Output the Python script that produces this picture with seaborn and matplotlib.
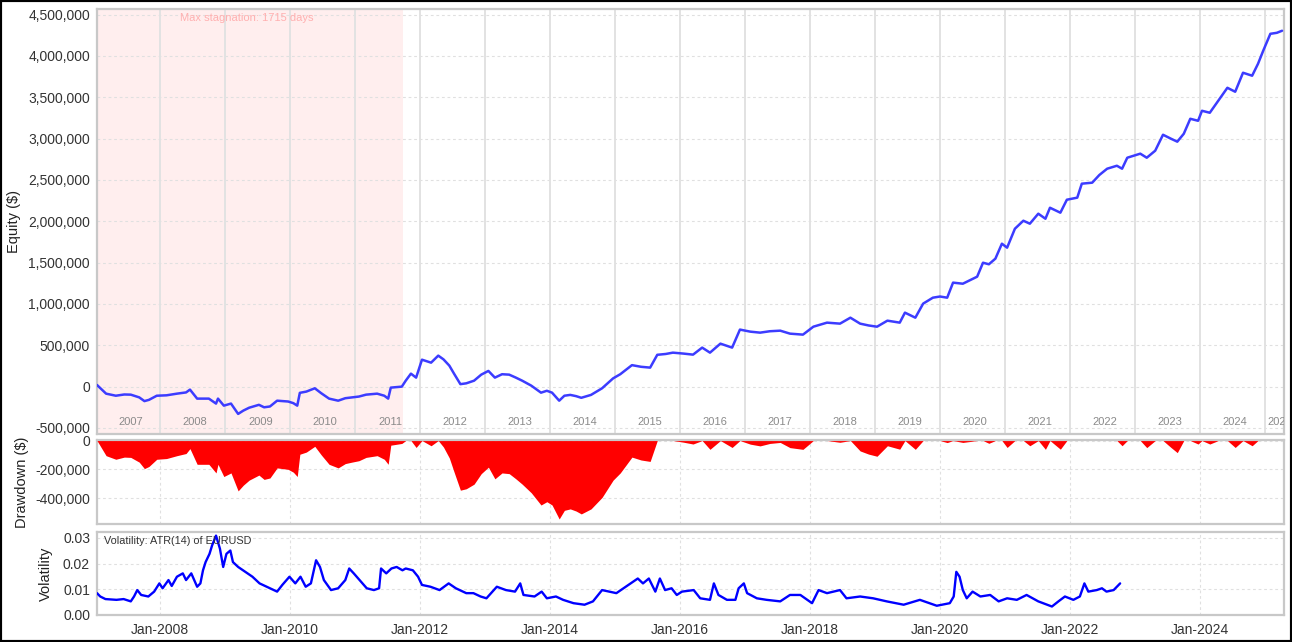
import numpy as np
import pandas as pd
import matplotlib
matplotlib.use("Agg")
import matplotlib.pyplot as plt
import matplotlib.ticker as mticker
import matplotlib.transforms as mtransforms
import seaborn as sns

# ---------------- data ----------------
eq_years = [2007.03, 2007.17, 2007.32, 2007.45, 2007.55, 2007.68, 2007.76, 2007.83, 2007.95,
            2008.10, 2008.26, 2008.40, 2008.46, 2008.57, 2008.75, 2008.86, 2008.89, 2008.98,
            2009.09, 2009.20, 2009.28, 2009.37, 2009.52, 2009.60, 2009.69, 2009.80, 2009.97,
            2010.05, 2010.11, 2010.15, 2010.25, 2010.38, 2010.48, 2010.60, 2010.74, 2010.85,
            2010.95, 2011.06, 2011.17, 2011.34, 2011.45, 2011.51, 2011.55, 2011.72, 2011.78,
            2011.86, 2011.94, 2012.03, 2012.17, 2012.28, 2012.36, 2012.45, 2012.52, 2012.62,
            2012.71, 2012.83, 2012.94, 2013.05, 2013.15, 2013.26, 2013.37, 2013.47, 2013.57,
            2013.71, 2013.86, 2013.95, 2014.03, 2014.14, 2014.22, 2014.31, 2014.40, 2014.48,
            2014.63, 2014.80, 2014.97, 2015.08, 2015.26, 2015.40, 2015.54, 2015.65, 2015.78,
            2015.89, 2016.05, 2016.20, 2016.34, 2016.46, 2016.62, 2016.80, 2016.92, 2017.08,
            2017.23, 2017.38, 2017.54, 2017.69, 2017.89, 2018.05, 2018.26, 2018.46, 2018.62,
            2018.77, 2018.90, 2019.03, 2019.19, 2019.38, 2019.46, 2019.62, 2019.74, 2019.89,
            2020.00, 2020.11, 2020.20, 2020.35, 2020.57, 2020.66, 2020.75, 2020.85, 2020.95,
            2021.03, 2021.15, 2021.28, 2021.38, 2021.51, 2021.62, 2021.69, 2021.85, 2021.95,
            2022.11, 2022.18, 2022.34, 2022.45, 2022.57, 2022.72, 2022.80, 2022.88, 2023.08,
            2023.18, 2023.31, 2023.43, 2023.55, 2023.65, 2023.75, 2023.85, 2023.97, 2024.03,
            2024.15, 2024.28, 2024.42, 2024.54, 2024.66, 2024.80, 2024.89, 2024.97, 2025.08,
            2025.18, 2025.26]
eq_values_k = [20, -85, -110, -95, -97, -130, -175, -160, -110,
               -105, -85, -70, -36, -145, -145, -205, -145, -230,
               -205, -330, -290, -255, -220, -250, -240, -170, -180,
               -200, -230, -75, -60, -20, -80, -145, -170, -140,
               -130, -120, -97, -85, -110, -145, -12, 0, 72,
               157, 109, 326, 290, 375, 330, 254, 160, 30,
               40, 72, 145, 190, 109, 150, 145, 110, 72,
               12, -73, -50, -73, -170, -110, -100, -115, -135,
               -100, -20, 100, 150, 260, 240, 230, 385, 395,
               411, 400, 387, 472, 411, 520, 472, 690, 665,
               653, 670, 677, 641, 629, 725, 774, 762, 834,
               762, 740, 725, 798, 774, 895, 834, 1004, 1076,
               1090, 1076, 1258, 1245, 1330, 1499, 1480, 1548, 1729,
               1681, 1910, 2007, 1971, 2092, 2031, 2164, 2104, 2261,
               2286, 2455, 2467, 2560, 2636, 2672, 2636, 2769, 2818,
               2769, 2854, 3047, 3000, 2963, 3059, 3240, 3216, 3337,
               3313, 3458, 3615, 3567, 3797, 3761, 3905, 4063, 4268,
               4280, 4305]

vol_years = [2007.03, 2007.08, 2007.16, 2007.33, 2007.44, 2007.55, 2007.60, 2007.65, 2007.71,
             2007.82, 2007.91, 2007.99, 2008.04, 2008.13, 2008.18, 2008.26, 2008.35, 2008.40,
             2008.48, 2008.57, 2008.62, 2008.66, 2008.70, 2008.76, 2008.80, 2008.86, 2008.92,
             2008.97, 2009.02, 2009.08, 2009.12, 2009.20, 2009.31, 2009.42, 2009.53, 2009.64,
             2009.75, 2009.80, 2009.88, 2009.99, 2010.08, 2010.16, 2010.24, 2010.32, 2010.40,
             2010.46, 2010.52, 2010.63, 2010.74, 2010.85, 2010.91, 2010.98, 2011.07, 2011.18,
             2011.29, 2011.37, 2011.40, 2011.48, 2011.56, 2011.64, 2011.73, 2011.78, 2011.89,
             2011.97, 2012.03, 2012.16, 2012.30, 2012.44, 2012.55, 2012.71, 2012.82, 2012.93,
             2013.02, 2013.18, 2013.32, 2013.46, 2013.54, 2013.59, 2013.76, 2013.87, 2013.95,
             2014.09, 2014.20, 2014.36, 2014.53, 2014.66, 2014.80, 2014.91, 2015.02, 2015.35,
             2015.43, 2015.52, 2015.62, 2015.69, 2015.77, 2015.87, 2015.95, 2016.03, 2016.21,
             2016.31, 2016.46, 2016.52, 2016.59, 2016.72, 2016.85, 2016.90, 2016.98, 2017.03,
             2017.18, 2017.33, 2017.54, 2017.69, 2017.85, 2018.03, 2018.13, 2018.26, 2018.46,
             2018.56, 2018.77, 2018.97, 2019.18, 2019.44, 2019.69, 2019.95, 2020.15, 2020.21,
             2020.25, 2020.30, 2020.35, 2020.41, 2020.50, 2020.62, 2020.77, 2020.90, 2021.03,
             2021.18, 2021.33, 2021.51, 2021.72, 2021.82, 2021.92, 2022.05, 2022.15, 2022.22,
             2022.28, 2022.41, 2022.49, 2022.56, 2022.67, 2022.77]
vol_values = [0.0085, 0.0072, 0.0062, 0.0059, 0.0062, 0.0053, 0.0072, 0.0097, 0.0078,
              0.0072, 0.0091, 0.0123, 0.0104, 0.0136, 0.0113, 0.0149, 0.0162, 0.0136,
              0.0162, 0.0110, 0.0123, 0.0174, 0.0206, 0.0238, 0.0271, 0.0309, 0.0258,
              0.0187, 0.0238, 0.0251, 0.0206, 0.0187, 0.0168, 0.0149, 0.0123, 0.0110,
              0.0097, 0.0091, 0.0117, 0.0149, 0.0123, 0.0149, 0.0110, 0.0123, 0.0213,
              0.0187, 0.0136, 0.0097, 0.0104, 0.0136, 0.0181, 0.0162, 0.0136, 0.0104,
              0.0097, 0.0104, 0.0181, 0.0162, 0.0181, 0.0187, 0.0174, 0.0181, 0.0174,
              0.0149, 0.0117, 0.0110, 0.0097, 0.0123, 0.0104, 0.0085, 0.0085, 0.0072,
              0.0065, 0.0110, 0.0097, 0.0091, 0.0123, 0.0078, 0.0072, 0.0091, 0.0065,
              0.0072, 0.0059, 0.0046, 0.0040, 0.0053, 0.0097, 0.0091, 0.0085, 0.0142,
              0.0123, 0.0142, 0.0091, 0.0142, 0.0097, 0.0104, 0.0078, 0.0091, 0.0097,
              0.0065, 0.0059, 0.0123, 0.0078, 0.0059, 0.0059, 0.0104, 0.0123, 0.0085,
              0.0065, 0.0059, 0.0053, 0.0078, 0.0078, 0.0046, 0.0097, 0.0085, 0.0097,
              0.0065, 0.0072, 0.0065, 0.0053, 0.0040, 0.0059, 0.0036, 0.0046, 0.0072,
              0.0168, 0.0149, 0.0097, 0.0065, 0.0091, 0.0072, 0.0078, 0.0053, 0.0065,
              0.0059, 0.0078, 0.0053, 0.0033, 0.0053, 0.0072, 0.0059, 0.0072, 0.0123,
              0.0091, 0.0097, 0.0104, 0.0091, 0.0097, 0.0123]

year_labels = ["2007", "2008", "2009", "2010", "2011", "2012", "2013", "2014", "2015",
               "2016", "2017", "2018", "2019", "2020", "2021", "2022", "2023", "2024", "2025"]
eq_ticks = [-500000, 0, 500000, 1000000, 1500000, 2000000, 2500000, 3000000, 3500000,
            4000000, 4500000]
dd_ticks = [-400000, -200000, 0]
vol_ticks = [0.00, 0.01, 0.02, 0.03]
date_tick_years = [2008, 2010, 2012, 2014, 2016, 2018, 2020, 2022, 2024]
stagnation_end_year = 2011.74
stagnation_text = "Max stagnation: 1715 days"
vol_text = "Volatility: ATR(14) of EURUSD"
x_range_years = (2007.03, 2025.29)


def to_date(y):
    yr = int(np.floor(y))
    start = pd.Timestamp(yr, 1, 1)
    end = pd.Timestamp(yr + 1, 1, 1)
    return start + (end - start) * (y - yr)


eq_df = pd.DataFrame({"date": [to_date(y) for y in eq_years],
                      "equity": np.array(eq_values_k, dtype=float) * 1000})
eq_df["drawdown"] = eq_df["equity"] - eq_df["equity"].cummax()
vol_df = pd.DataFrame({"date": [to_date(y) for y in vol_years], "vol": vol_values})

# ---------------- style ----------------
sns.set_style("white")
plt.rcParams["font.family"] = ["Liberation Sans", "DejaVu Sans"]

fig = plt.figure(figsize=(12.92, 6.42), dpi=100)
W, H = 1292, 642
L, R = 97, 1284


def add_ax(top, bottom):
    return fig.add_axes([L / W, 1 - bottom / H, (R - L) / W, (bottom - top) / H])


ax1 = add_ax(9, 434)
ax2 = add_ax(440, 524)
ax3 = add_ax(532, 615)

xlim = (to_date(x_range_years[0]), to_date(x_range_years[1]))
grid_kw = dict(color="#e0e0e0", lw=0.8, ls=(0, (2.5, 2.5)))
tick_color = "#333333"

for ax in (ax1, ax2, ax3):
    ax.set_xlim(*xlim)
    ax.set_axisbelow(True)
    for s in ax.spines.values():
        s.set_color("#c8c8c8")
        s.set_linewidth(1.6)
    ax.tick_params(axis="y", length=3, width=0.8, color="#999999", labelsize=10,
                   labelcolor=tick_color, pad=2)
    ax.set_xlabel("")

# ---- equity panel ----
ax1.axvspan(xlim[0], to_date(stagnation_end_year), color="#ffeeee", lw=0, zorder=0)
for y in range(int(np.ceil(x_range_years[0])), int(np.ceil(x_range_years[1]))):
    ax1.axvline(to_date(y), color="#e2e2e2", lw=1.4, zorder=1)
ax1.grid(True, axis="y", **grid_kw)
sns.lineplot(data=eq_df, x="date", y="equity", ax=ax1, color="#3c3cff", lw=1.8, zorder=3)
ax1.set_ylim(-573000, 4568000)
ax1.set_yticks(eq_ticks)
ax1.yaxis.set_major_formatter(mticker.FuncFormatter(lambda v, p: f"{v:,.0f}"))
ax1.tick_params(axis="x", bottom=False, labelbottom=False)
ax1.set_xlabel("")
ax1.set_ylabel("Equity ($)", fontsize=10.5, color="#222222")
ax1.yaxis.set_label_coords(-0.064, 0.5)
btrans = mtransforms.blended_transform_factory(ax1.transData, ax1.transAxes)
for lab in year_labels:
    yv = int(lab)
    a = max(to_date(yv), xlim[0])
    b = min(to_date(yv + 1), xlim[1] + pd.Timedelta(days=30))
    ax1.text(a + (b - a) / 2 + pd.Timedelta(days=15), 0.028, lab, transform=btrans,
             ha="center", va="center", fontsize=8, color="#8a8a8a", clip_on=True, zorder=4)
ax1.text(0.07, 0.979, stagnation_text, transform=ax1.transAxes, ha="left", va="center",
         fontsize=8, color="#ffb0b0", zorder=4)

# ---- drawdown panel ----
ax2.fill_between(eq_df["date"], eq_df["drawdown"], 0, color="#ff0000", lw=0, zorder=3)
ax2.set_ylim(-580000, 4000)
ax2.set_yticks(dd_ticks)
ax2.yaxis.set_major_formatter(mticker.FuncFormatter(lambda v, p: f"{v:,.0f}"))
ax2.set_xticks([to_date(y) for y in date_tick_years])
ax2.tick_params(axis="x", bottom=False, labelbottom=False)
ax2.grid(True, axis="both", **grid_kw)
ax2.set_ylabel("Drawdown ($)", fontsize=10.5, color="#222222")
ax2.yaxis.set_label_coords(-0.057, 0.5)

# ---- volatility panel ----
sns.lineplot(data=vol_df, x="date", y="vol", ax=ax3, color="#0000ff", lw=1.7, zorder=3)
ax3.set_ylim(0, 0.0323)
ax3.set_yticks(vol_ticks)
ax3.yaxis.set_major_formatter(mticker.FormatStrFormatter("%.2f"))
ax3.set_xticks([to_date(y) for y in date_tick_years])
ax3.set_xticklabels([f"Jan-{y}" for y in date_tick_years])
ax3.tick_params(axis="x", length=3, width=0.8, color="#999999", labelsize=10,
                labelcolor=tick_color, pad=3)
ax3.grid(True, axis="both", **grid_kw)
ax3.set_xlabel("")
ax3.set_ylabel("Volatility", fontsize=10.5, color="#222222")
ax3.yaxis.set_label_coords(-0.037, 0.5)
ax3.text(0.006, 0.89, vol_text, transform=ax3.transAxes, ha="left", va="center",
         fontsize=7.8, color="#333333", zorder=4)

fig.add_artist(plt.Rectangle((0, 0), 1, 1, transform=fig.transFigure, fill=False,
                             ec="black", lw=3))

fig.savefig("out.png", dpi=100)
